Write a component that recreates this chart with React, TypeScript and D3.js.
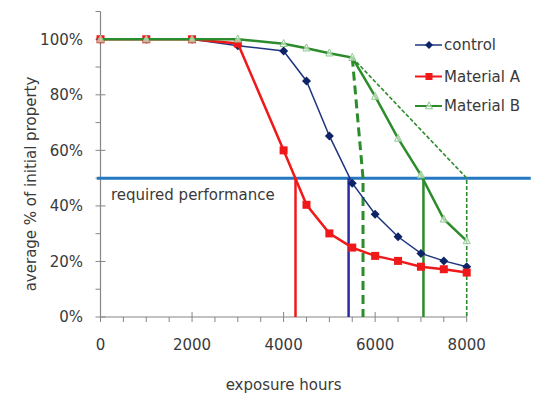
import React from "react";
import * as d3 from "d3";

const hours = [0, 1000, 2000, 3000, 4000, 4500, 5000, 5500, 6000, 6500, 7000, 7500, 8000];
const control = [1.0, 1.0, 1.0, 0.977, 0.958, 0.85, 0.652, 0.482, 0.37, 0.289, 0.229, 0.202, 0.181];
const materialA = [1.0, 1.0, 1.0, 0.985, 0.6, 0.404, 0.301, 0.25, 0.22, 0.202, 0.181, 0.172, 0.16];
const materialB = [1.0, 1.0, 1.0, 1.0, 0.984, 0.968, 0.95, 0.934, 0.794, 0.643, 0.511, 0.352, 0.274];

const requiredX = [-80, 9400];
const requiredY = [0.5, 0.5];

// failure markers
const controlFailX = [5420, 5420];
const controlFailY = [0.5, 0];
const aFailX = [4260, 4260];
const aFailY = [0.5, 0];
const bFailX = [7055, 7055];
const bFailY = [0.5, 0];
const bLowX = [5500, 5735, 5735];
const bLowY = [0.934, 0.5, 0];
const bHighX = [5500, 8000, 8000];
const bHighY = [0.934, 0.5, 0];

const xTicks = [0, 2000, 4000, 6000, 8000];
const xMinor = d3.range(0, 8001, 500);
const yTicks = [0, 0.2, 0.4, 0.6, 0.8, 1.0];
const yMinor = d3.range(0, 1.101, 0.1);

const seriesNames = ["control", "Material A", "Material B"];

const FONT = "DejaVu Sans, Verdana, sans-serif";
const TEXT = "#3a3a3a";
const AXIS = "#868686";

export default function App() {
  const x = d3.scaleLinear().domain([0, 8000]).range([100.5, 466.7]);
  const y = d3.scaleLinear().domain([0, 1.1]).range([317, 11.5]);
  const line = d3
    .line<[number, number]>()
    .x((d) => x(d[0]))
    .y((d) => y(d[1]));
  const pts = (xs: number[], ys: number[]) => xs.map((v, i) => [v, ys[i]] as [number, number]);

  const navy = "#1f3580";
  const navyMarker = "#0d2466";
  const red = "#f01818";
  const green = "#2c8c2c";
  const lightGreen = "#8cc98c";
  const blue = "#2479c0";

  const diamond = (cx: number, cy: number, r: number, fill: string, key?: any) => (
    <path key={key} d={`M${cx},${cy - r}L${cx + r},${cy}L${cx},${cy + r}L${cx - r},${cy}Z`} fill={fill} />
  );
  const square = (cx: number, cy: number, s: number, fill: string, key?: any) => (
    <rect key={key} x={cx - s / 2} y={cy - s / 2} width={s} height={s} fill={fill} />
  );
  const tri = (cx: number, cy: number, s: number, key?: any) => (
    <path
      key={key}
      d={`M${cx},${cy - s * 0.6}L${cx + s / 2},${cy + s * 0.4}L${cx - s / 2},${cy + s * 0.4}Z`}
      fill="white"
      fillOpacity={0.6}
      stroke={lightGreen}
      strokeWidth={1}
    />
  );

  const legendY = [45, 76.5, 106];

  return (
    <svg
      width={539}
      height={395}
      style={{ position: "absolute", left: 0, top: 0, background: "white" }}
      fontFamily={FONT}
    >
      <rect x={0} y={0} width={539} height={395} fill="white" />
      {/* axes */}
      <line x1={x(0)} x2={x(0)} y1={y(1.1)} y2={y(0)} stroke={AXIS} strokeWidth={1.2} />
      <line x1={x(0)} x2={x(8000)} y1={y(0)} y2={y(0)} stroke={AXIS} strokeWidth={1.2} />
      {yMinor.map((v, i) => {
        const major = Math.round(v * 100) % 20 === 0;
        return (
          <line
            key={"ym" + i}
            x1={x(0) - 5}
            x2={major ? x(0) + 5 : x(0)}
            y1={y(v)}
            y2={y(v)}
            stroke={AXIS}
            strokeWidth={1}
          />
        );
      })}
      {xMinor.map((v, i) => {
        const major = v % 2000 === 0;
        return (
          <line
            key={"xm" + i}
            x1={x(v)}
            x2={x(v)}
            y1={major ? y(0) - 5 : y(0)}
            y2={y(0) + 5}
            stroke={AXIS}
            strokeWidth={1}
          />
        );
      })}
      {yTicks.map((v, i) => (
        <text
          key={"yl" + i}
          x={83}
          y={y(v)}
          dy="0.36em"
          textAnchor="end"
          fontSize={15}
          fill={TEXT}
        >
          {Math.round(v * 100) + "%"}
        </text>
      ))}
      {xTicks.map((v, i) => (
        <text key={"xl" + i} x={x(v)} y={350} textAnchor="middle" fontSize={15} fill={TEXT}>
          {v}
        </text>
      ))}
      <text x={(x(0) + x(8000)) / 2} y={390} textAnchor="middle" fontSize={15} fill={TEXT}>
        exposure hours
      </text>
      <text
        transform={`translate(36,184) rotate(-90)`}
        textAnchor="middle"
        fontSize={15}
        fill={TEXT}
      >
        average % of initial property
      </text>

      {/* required performance */}
      <path d={line(pts(requiredX, requiredY)) || ""} stroke={blue} strokeWidth={3} fill="none" />
      <text x={111} y={200} fontSize={15} fill={TEXT}>
        required performance
      </text>

      {/* failure verticals */}
      <path d={line(pts(aFailX, aFailY)) || ""} stroke={red} strokeWidth={2.5} fill="none" />
      <path d={line(pts(controlFailX, controlFailY)) || ""} stroke="#2b2ba6" strokeWidth={2.5} fill="none" />
      <path d={line(pts(bFailX, bFailY)) || ""} stroke={green} strokeWidth={2.5} fill="none" />
      <path
        d={line(pts(bLowX, bLowY)) || ""}
        stroke={green}
        strokeWidth={3}
        strokeDasharray="9,5"
        fill="none"
      />
      <path
        d={line(pts(bHighX, bHighY)) || ""}
        stroke={green}
        strokeWidth={1.6}
        strokeDasharray="4,2"
        fill="none"
      />

      {/* control */}
      <path d={line(pts(hours, control)) || ""} stroke={navy} strokeWidth={1.5} fill="none" />
      {hours.map((h, i) => diamond(x(h), y(control[i]), 4.5, navyMarker, "c" + i))}

      {/* Material A */}
      <path d={line(pts(hours, materialA)) || ""} stroke={red} strokeWidth={2.5} fill="none" />
      {hours.map((h, i) => square(x(h), y(materialA[i]), 8, red, "a" + i))}

      {/* Material B */}
      <path d={line(pts(hours, materialB)) || ""} stroke={green} strokeWidth={2.5} fill="none" />
      {hours.map((h, i) => tri(x(h), y(materialB[i]), 7, "b" + i))}

      {/* legend */}
      {seriesNames.map((name, i) => {
        const ly = legendY[i];
        const col = i === 0 ? navy : i === 1 ? red : green;
        return (
          <g key={"lg" + i}>
            <line x1={415} x2={442} y1={ly} y2={ly} stroke={col} strokeWidth={i === 0 ? 1.5 : 2} />
            {i === 0 && diamond(429, ly, 4, navyMarker)}
            {i === 1 && square(429, ly, 7, red)}
            {i === 2 && tri(429, ly, 7)}
            <text x={444} y={ly} dy="0.36em" fontSize={15} fill={TEXT}>
              {name}
            </text>
          </g>
        );
      })}
    </svg>
  );
}
